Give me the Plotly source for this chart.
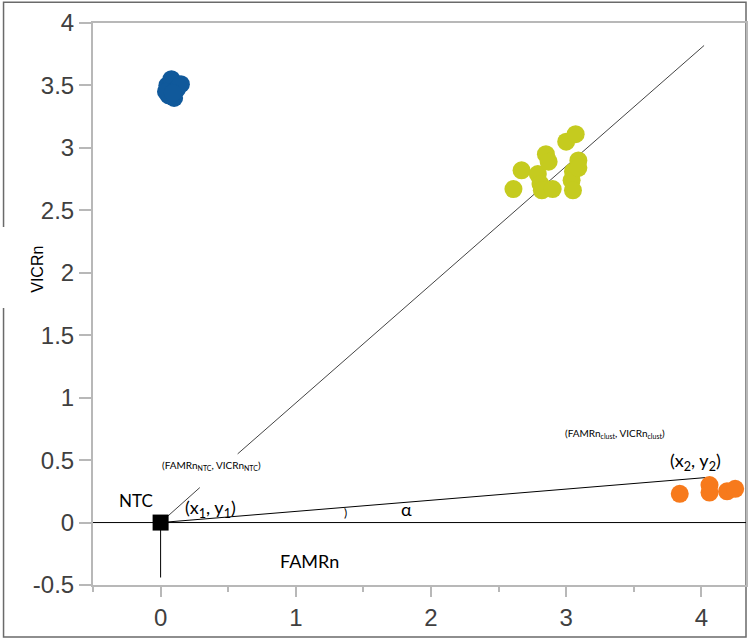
import plotly.graph_objects as go

# Clusters
blue_x = [0.05, 0.08, 0.12, 0.15, 0.06, 0.10, 0.04, 0.09]
blue_y = [3.50, 3.55, 3.47, 3.51, 3.42, 3.40, 3.45, 3.44]

yellow_x = [2.61, 2.67, 2.79, 2.81, 2.85, 2.87, 2.82, 2.90, 3.00, 3.07,
            3.09, 3.05, 3.04, 3.05, 3.09]
yellow_y = [2.67, 2.82, 2.79, 2.71, 2.95, 2.89, 2.66, 2.67, 3.05, 3.11,
            2.90, 2.81, 2.74, 2.66, 2.84]

orange_x = [3.84, 4.06, 4.06, 4.19, 4.25]
orange_y = [0.23, 0.30, 0.24, 0.25, 0.27]

ntc_x = [0]
ntc_y = [0]

# Construction lines
base_x = [-0.5, 4.33]
base_y = [0, 0]
stem_x = [0, 0]
stem_y = [0, -0.44]
diag_lo_x = [0, 0.29]
diag_lo_y = [0, 0.28]
diag_hi_x = [0.57, 4.02]
diag_hi_y = [0.55, 3.82]
clust_x = [0, 4.03]
clust_y = [0, 0.36]

x_ticks = [0, 1, 2, 3, 4]
y_ticks = [-0.5, 0, 0.5, 1, 1.5, 2, 2.5, 3, 3.5, 4]
y_labels = ["-0.5", "0", "0.5", "1", "1.5", "2", "2.5", "3", "3.5", "4"]

fig = go.Figure()

for lx, ly, col in [(base_x, base_y, "black"),
                    (stem_x, stem_y, "black"),
                    (diag_lo_x, diag_lo_y, "#444444"),
                    (diag_hi_x, diag_hi_y, "#444444"),
                    (clust_x, clust_y, "black")]:
    fig.add_trace(go.Scatter(x=lx, y=ly, mode='lines',
                             line=dict(color=col, width=1),
                             hoverinfo='skip'))

for px, py, col in [(blue_x, blue_y, "#10599b"),
                    (yellow_x, yellow_y, "#c5cb1f"),
                    (orange_x, orange_y, "#f77a1c")]:
    fig.add_trace(go.Scatter(x=px, y=py, mode='markers',
                             marker=dict(color=col, size=18,
                                         line=dict(width=0))))

fig.add_trace(go.Scatter(x=ntc_x, y=ntc_y, mode='markers',
                         marker=dict(symbol='square', color='black', size=16)))

txt = dict(family="Lato, Noto Sans, sans-serif", color="black")

fig.add_annotation(x=-0.18, y=0.18, text="NTC", showarrow=False,
                   font=dict(size=17, **txt))
fig.add_annotation(x=0.37, y=0.11, text="(x<sub>1</sub>, y<sub>1</sub>)",
                   showarrow=False, font=dict(size=18, **txt))
fig.add_annotation(x=1.1, y=-0.31, text="FAMRn", showarrow=False,
                   font=dict(size=18, **txt))
fig.add_annotation(x=1.82, y=0.11, text="α", showarrow=False,
                   font=dict(size=18, **txt))
fig.add_annotation(x=1.37, y=0.08, text=")", showarrow=False,
                   font=dict(size=12, **txt))
fig.add_annotation(x=0.38, y=0.46,
                   text="(FAMRn<sub>NTC</sub>, VICRn<sub>NTC</sub>)",
                   showarrow=False, font=dict(size=10, **txt))
fig.add_annotation(x=3.36, y=0.71,
                   text="(FAMRn<sub>clust</sub>, VICRn<sub>clust</sub>)",
                   showarrow=False, font=dict(size=10, **txt))
fig.add_annotation(x=3.96, y=0.49, text="(x<sub>2</sub>, y<sub>2</sub>)",
                   showarrow=False, font=dict(size=18, **txt))

fig.add_annotation(xref="paper", yref="paper", x=-0.104, y=0.562,
                   text="VICRn", textangle=-90,
                   showarrow=False, bgcolor="white", borderpad=3,
                   font=dict(family="Arial, Liberation Sans", size=16,
                             color="black"))

# outer frame around the whole picture
fig.add_shape(type="rect", xref="paper", yref="paper",
              x0=-0.137, x1=1.0, y0=-0.0925, y1=1.037,
              line=dict(color="#6a6a6a", width=1.5), layer="below")
# the y label sits on a white patch that breaks the frame
fig.add_shape(type="rect", xref="paper", yref="paper",
              x0=-0.15, x1=-0.12, y0=0.493, y1=0.637,
              line=dict(width=0), fillcolor="white", layer="above")

fig.update_layout(width=750, height=639,
                  margin=dict(l=93, r=2, t=23, b=54),
                  plot_bgcolor="#fff",
                  paper_bgcolor="#fff",
                  showlegend=False,
                  font=dict(family="Arial, Liberation Sans", color="#404040"))

fig.update_xaxes(range=[-0.5, 4.33], tickvals=x_ticks,
                 showgrid=False, zeroline=False,
                 showline=True, linecolor="#b8b8b8", linewidth=2, mirror=True,
                 ticks="outside", ticklen=10, tickcolor="#b8b8b8", tickwidth=2,
                 tickfont=dict(size=24),
                 minor=dict(dtick=0.5, ticks="outside", ticklen=5,
                            tickcolor="#b8b8b8", tickwidth=2))

fig.update_yaxes(range=[-0.5, 4], tickvals=y_ticks, ticktext=y_labels,
                 showgrid=False, zeroline=False,
                 showline=True, linecolor="#b8b8b8", linewidth=2, mirror=True,
                 ticks="outside", ticklen=12, tickcolor="#b8b8b8", tickwidth=2,
                 tickfont=dict(size=24))

# the page body has a default 8px margin; drop it so the figure sits at 0,0
fig.write_html("out.html", config={"displayModeBar": False},
               post_script="document.body.style.margin='0';")
